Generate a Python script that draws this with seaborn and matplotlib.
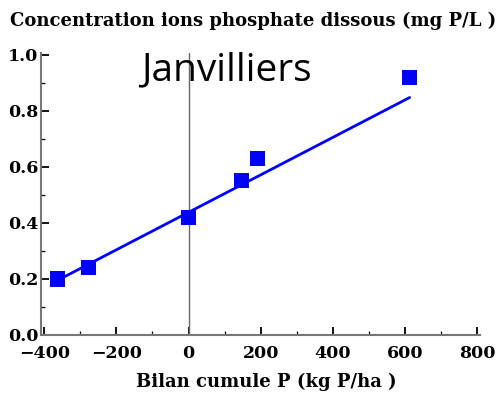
import matplotlib
matplotlib.use("Agg")
import matplotlib.pyplot as plt
import seaborn as sns
import pandas as pd
from matplotlib.ticker import MultipleLocator

# data
bilan_p = [-363, -278, 0, 147, 192, 613]
concentration = [0.20, 0.242, 0.42, 0.55, 0.629, 0.917]
fit_x = [-363, 613]
fit_y = [0.195, 0.847]
x_ticks = [-400, -200, 0, 200, 400, 600, 800]
y_ticks = [0.0, 0.2, 0.4, 0.6, 0.8, 1.0]

sns.set_style("white")
plt.rcParams['font.family'] = ['DejaVu Serif']
plt.rcParams['text.color'] = 'black'
plt.rcParams['xtick.color'] = 'black'
plt.rcParams['ytick.color'] = 'black'

pts = pd.DataFrame({"x": bilan_p, "y": concentration})
fit = pd.DataFrame({"x": fit_x, "y": fit_y})

fig = plt.figure(figsize=(5, 4.01), dpi=100)
ax = fig.add_axes([0.082, 0.1646, 0.878, 0.7034])

ax.axvline(0, color="#666666", lw=1.0, zorder=1)
sns.lineplot(data=fit, x="x", y="y", ax=ax, color="#0000ff", lw=2.0, zorder=2)
sns.scatterplot(data=pts, x="x", y="y", ax=ax, marker="s", s=120, color="#0000ff",
                edgecolor="none", linewidth=0, zorder=3)

ax.set_xlim(-409, 808)
ax.set_ylim(0, 1.006)
ax.set_xticks(x_ticks)
ax.set_yticks(y_ticks)
ax.set_xticklabels([f"\u2212{abs(v)}" if v < 0 else str(v) for v in x_ticks])
ax.set_yticklabels([f"{v:.1f}" for v in y_ticks])
ax.xaxis.set_minor_locator(MultipleLocator(100))
ax.yaxis.set_minor_locator(MultipleLocator(0.1))
ax.tick_params(which="both", bottom=True, left=True, top=False, right=False)
ax.tick_params(which="major", direction="in", length=5.8, width=1.3, color="black",
               labelsize=12.5, labelcolor="black")
ax.tick_params(which="minor", direction="in", length=3, width=0.9, color="black")
ax.tick_params(axis="x", pad=7)
ax.tick_params(axis="y", pad=2)
for lab in ax.get_xticklabels() + ax.get_yticklabels():
    lab.set_fontweight("bold")

for s in ["top", "right"]:
    ax.spines[s].set_visible(False)
for s in ["left", "bottom"]:
    ax.spines[s].set_color("#777777")
    ax.spines[s].set_linewidth(1.5)

ax.set_xlabel("")
ax.set_ylabel("")
fig.text(0.02, 0.935, "Concentration ions phosphate dissous (mg P/L )", fontsize=13,
         ha="left", va="baseline", fontweight="semibold", color="black")
fig.text(0.532, 0.035, "Bilan cumule P (kg P/ha )", fontsize=13, ha="center",
         va="baseline", fontweight="semibold", color="black")
fig.text(0.452, 0.80, "Janvilliers", fontsize=28, family="Open Sans",
         ha="center", va="baseline", color="black")

fig.savefig("out.png", dpi=100)
